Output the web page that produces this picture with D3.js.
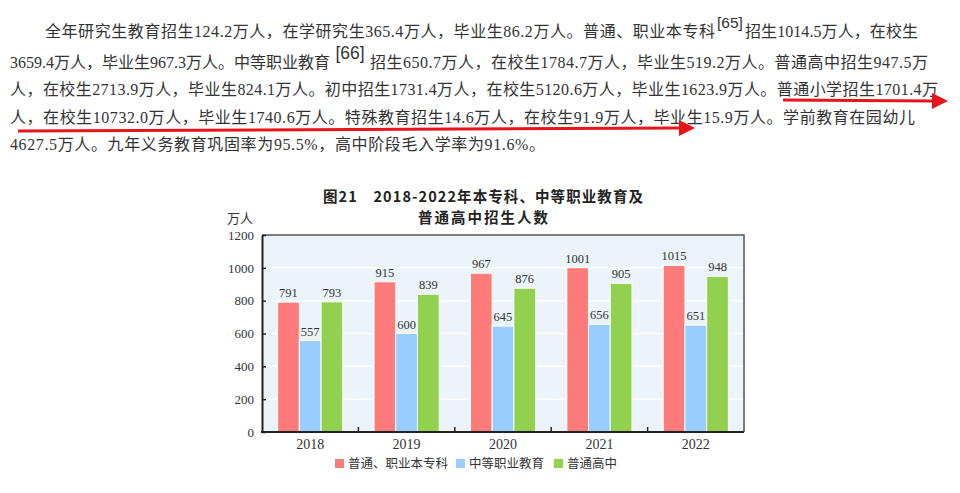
<!DOCTYPE html>
<html><head><meta charset="utf-8">
<script src="https://cdn.jsdelivr.net/npm/d3@7"></script>
<style>html,body{margin:0;padding:0;background:#fff;}svg{display:block;}</style>
</head><body>
<script>
// ---- data ----
const years = ["2018","2019","2020","2021","2022"];
const seriesNames = ["普通、职业本专科","中等职业教育","普通高中"];
const undergrad = [791,915,967,1001,1015];
const vocational = [557,600,645,656,651];
const highschool = [793,839,876,905,948];
const yTicks = [0,200,400,600,800,1000,1200];
const chartTitle = ["图21　2018-2022年本专科、中等职业教育及","普通高中招生人数"];
const titleWidths = [320,130];
const yUnit = "万人";
const paragraph = [
  [["全年研究生教育招生124.2万人，在学研究生365.4万人，毕业生86.2万人。普通、职业本专科",45,715],["[65]",717,743,"sup",15.5],["招生1014.5万人，在校生",745,918]],
  [["3659.4万人，毕业生967.3万人。中等职业教育",10,330],["[66]",331,369,"sup",17.5],["招生650.7万人，在校生1784.7万人，毕业生519.2万人。普通高中招生947.5万",370,928]],
  [["人，在校生2713.9万人，毕业生824.1万人。初中招生1731.4万人，在校生5120.6万人，毕业生1623.9万人。普通小学招生1701.4万",10,938]],
  [["人，在校生10732.0万人，毕业生1740.6万人。特殊教育招生14.6万人，在校生91.9万人，毕业生15.9万人。学前教育在园幼儿",10,915]],
  [["4627.5万人。九年义务教育巩固率为95.5%，高中阶段毛入学率为91.6%。",10,545]]
];
const lineBaselines = [37,68,95,123,150];
// annotation arrows: [x1,y1,x2,y2]
const arrows = [[783,100,948,101],[18,131,695,128]];

const colors = ["#ff7b7b","#99ccff","#92d050"];
const series = [undergrad, vocational, highschool];

const W = 960, H = 493;
const svg = d3.select("body").append("svg").attr("width",W).attr("height",H);
svg.append("rect").attr("width",W).attr("height",H).attr("fill","#fff");

// ---- paragraph ----
const pg = svg.append("g").attr("font-family","'Liberation Serif','Noto Sans CJK SC',serif").attr("fill","#333");
paragraph.forEach((segs,i)=>{
  segs.forEach(s=>{
    const isSup = s[3]==="sup";
    const t = pg.append("text")
      .attr("y",lineBaselines[i] - (isSup?9:0))
      .text(s[0]);
    if (isSup) {
      t.attr("x",(s[1]+s[2])/2).attr("text-anchor","middle")
       .attr("font-size",s[4]).attr("font-family","'Liberation Sans',sans-serif");
    } else {
      t.attr("x",s[1]).attr("font-size",16)
       .attr("textLength",s[2]-s[1]).attr("lengthAdjust","spacing");
    }
  });
});

// arrows
const ag = svg.append("g").attr("fill","#e8141c").attr("stroke","#e8141c");
arrows.forEach(a=>{
  const [x1,y1,x2,y2]=a;
  const ang = Math.atan2(y2-y1,x2-x1);
  const L=16, Wd=8;
  const bx = x2 - L*Math.cos(ang), by = y2 - L*Math.sin(ang);
  ag.append("line").attr("x1",x1).attr("y1",y1).attr("x2",bx).attr("y2",by).attr("stroke-width",3);
  const px = -Math.sin(ang)*Wd, py = Math.cos(ang)*Wd;
  ag.append("path").attr("stroke","none")
    .attr("d",`M${x2},${y2}L${bx+px},${by+py}L${bx-px},${by-py}Z`);
});

// ---- chart ----
const L = 262, R = 744, T = 235, B = 432;
const x0 = d3.scaleBand().domain(years).range([L,R]);
const x1 = d3.scaleBand().domain([0,1,2]).range([0,x0.bandwidth()]).paddingInner(0).paddingOuter(0.72);
const y = d3.scaleLinear().domain([0,1200]).range([B,T]);

// title
svg.append("g").selectAll("text").data(chartTitle).join("text")
  .attr("x",(d,i)=>483-titleWidths[i]/2).attr("y",(d,i)=>201.5+i*21)
  .attr("textLength",(d,i)=>titleWidths[i]).attr("lengthAdjust","spacing")
  .attr("font-family","'Noto Sans CJK SC',sans-serif")
  .attr("font-weight","bold").attr("font-size",14.5).attr("fill","#222")
  .text(d=>d);

svg.append("text").attr("x",240).attr("y",223).attr("text-anchor","middle")
  .attr("font-family","'Noto Sans CJK SC',sans-serif").attr("font-size",13).attr("fill","#333")
  .text(yUnit);

// plot bg
svg.append("rect").attr("x",L).attr("y",T).attr("width",R-L).attr("height",B-T).attr("fill","#ebf4f8");

// gridlines
svg.append("g").selectAll("line").data(yTicks.filter(t=>t>0&&t<1200)).join("line")
  .attr("x1",L).attr("x2",R).attr("y1",d=>y(d)).attr("y2",d=>y(d))
  .attr("stroke","#fff").attr("stroke-width",1.5);

// bars
const groups = svg.append("g").selectAll("g").data(years).join("g")
  .attr("transform",d=>`translate(${x0(d)},0)`);
groups.each(function(yr,yi){
  const g = d3.select(this);
  series.forEach((s,si)=>{
    g.append("rect")
      .attr("x",x1(si)).attr("width",x1.bandwidth())
      .attr("y",y(s[yi])).attr("height",B-y(s[yi]))
      .attr("fill",colors[si]).attr("stroke","#fff").attr("stroke-width",1);
    g.append("text")
      .attr("x",x1(si)+x1.bandwidth()/2).attr("y",y(s[yi])-5)
      .attr("text-anchor","middle")
      .attr("font-family","'Liberation Serif',serif").attr("font-size",12.5).attr("fill","#333")
      .text(s[yi]);
  });
});

// frame top/right
svg.append("path").attr("d",`M${L},${T}H${R}V${B}`).attr("fill","none").attr("stroke","#555").attr("stroke-width",1.5);

// y axis
const yAxis = svg.append("g").attr("transform",`translate(${L},0)`)
  .call(d3.axisLeft(y).tickValues(yTicks).tickFormat(d3.format("d")).tickSizeInner(-4).tickSizeOuter(0).tickPadding(8));
yAxis.select(".domain").attr("stroke","#222").attr("stroke-width",2);
yAxis.selectAll(".tick line").attr("stroke","#222").attr("stroke-width",1.5);
yAxis.selectAll(".tick text").attr("font-family","'Liberation Serif',serif").attr("font-size",13).attr("fill","#333");

// x axis
const xg = svg.append("g");
xg.append("line").attr("x1",L-1).attr("x2",R).attr("y1",B).attr("y2",B).attr("stroke","#222").attr("stroke-width",2);
xg.selectAll(".xt").data(years.slice(0,-1)).join("line").attr("class","xt")
  .attr("x1",d=>x0(d)+x0.bandwidth()).attr("x2",d=>x0(d)+x0.bandwidth())
  .attr("y1",B).attr("y2",B-5).attr("stroke","#222").attr("stroke-width",1.5);
xg.selectAll(".xl").data(years).join("text").attr("class","xl")
  .attr("x",d=>x0(d)+x0.bandwidth()/2).attr("y",449)
  .attr("text-anchor","middle")
  .attr("font-family","'Liberation Serif',serif").attr("font-size",14).attr("fill","#333")
  .text(d=>d);

// legend
const legendX = [335, 456, 554];
const lg = svg.append("g");
seriesNames.forEach((n,i)=>{
  lg.append("rect").attr("x",legendX[i]).attr("y",459).attr("width",9).attr("height",9).attr("fill",colors[i]);
  lg.append("text").attr("x",legendX[i]+13).attr("y",468)
    .attr("font-family","'Noto Sans CJK SC',sans-serif").attr("font-size",12.5).attr("fill","#333")
    .text(n);
});
</script>
</body></html>
